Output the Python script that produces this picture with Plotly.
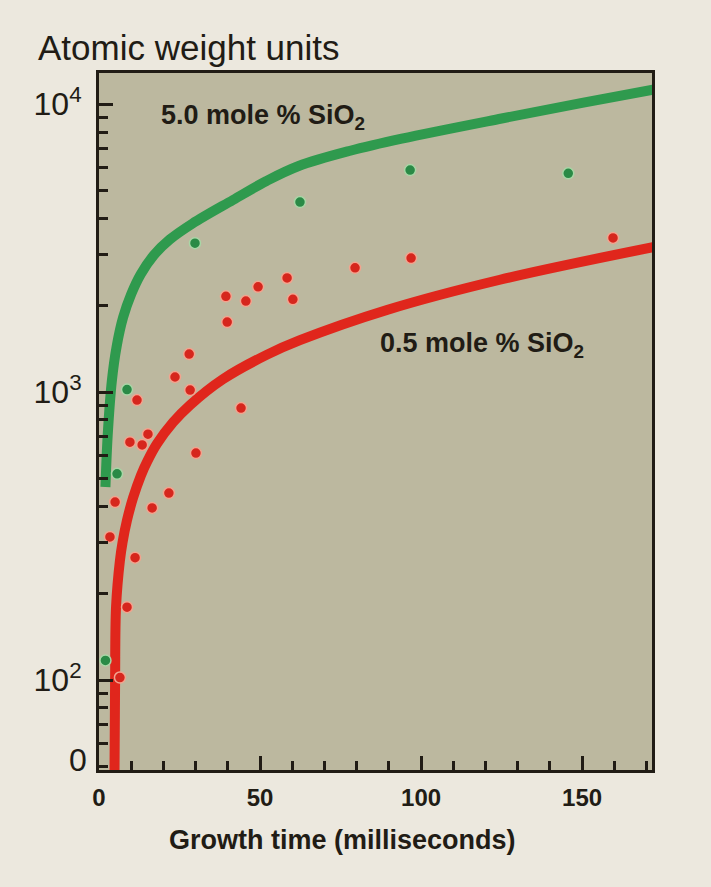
import plotly.graph_objects as go
import math

# ---- data ----
green_curve_t = [2.0, 2.7, 4.0, 5.5, 7.5, 10, 13, 17, 22, 29, 41.6, 52, 62, 78, 94, 125, 150, 172]
green_curve_v = [468, 708, 1096, 1445, 1820, 2188, 2570, 2985, 3388, 3846, 4645, 5408, 6095,
                 6887, 7586, 8913, 10092, 11220]

red_curve_t = [4.8, 5.0, 5.3, 6.5, 7.3, 8.7, 10.6, 13, 15, 18, 23, 28.3, 38.5, 52.2, 62.4, 89.4, 124.5, 172]
red_curve_v = [45, 100, 180, 260, 300, 359, 430, 513, 575, 661, 785, 902, 1109, 1349, 1514, 1928, 2455, 3184]

green_pts_t = [2.0, 5.6, 8.7, 29.8, 62.4, 96.6, 145.7]
green_pts_v = [117, 520, 1020, 3290, 4570, 5900, 5750]

red_pts_t = [159.6, 96.9, 79.5, 60.2, 58.4, 49.4, 45.6, 39.4, 39.8, 28.0, 23.6, 28.3,
             11.8, 44.1, 15.2, 9.6, 13.4, 30.1, 21.7, 16.5, 5.0, 3.4, 11.2, 8.7, 6.5]
red_pts_v = [3430, 2920, 2700, 2100, 2490, 2320, 2070, 2150, 1750, 1355, 1128, 1016,
             938, 880, 714, 670, 655, 614, 446, 396, 415, 314, 266, 179, 102]

x_major = [0, 50, 100, 150]
x_minor = [10, 20, 30, 40, 60, 70, 80, 90, 110, 120, 130, 140, 160, 170]
y_major = [100, 1000, 10000]
y_major_text = ["10<sup>2</sup>", "10<sup>3</sup>", "10<sup>4</sup>"]
y_minor = [50, 60, 70, 80, 90, 200, 300, 400, 500, 600, 700, 800, 900,
           2000, 3000, 4000, 5000, 6000, 7000, 8000, 9000]
y_zero_label_value = 52.7

label_green = "5.0 mole % SiO<sub>2</sub>"
label_red = "0.5 mole % SiO<sub>2</sub>"

# ---- style ----
GREEN_LINE = "#2f9a4e"
GREEN_DOT = "#2a8a46"
RED_LINE = "#e0261c"
RED_DOT = "#d6261d"
INK = "#211c15"
PLOT_BG = "#bcb89f"
PAPER_BG = "#ece8de"
REG = "Liberation Sans, Arial, sans-serif"

fig = go.Figure()
fig.add_trace(go.Scatter(x=green_curve_t, y=green_curve_v, mode="lines",
                         line=dict(color=GREEN_LINE, width=10, shape="spline", smoothing=1.0),
                         hoverinfo="skip"))
fig.add_trace(go.Scatter(x=red_curve_t, y=red_curve_v, mode="lines",
                         line=dict(color=RED_LINE, width=10, shape="spline", smoothing=1.0),
                         hoverinfo="skip"))
fig.add_trace(go.Scatter(x=green_pts_t, y=green_pts_v, mode="markers",
                         marker=dict(color=GREEN_DOT, size=11, line=dict(color="#a9d6a6", width=1.5))))
fig.add_trace(go.Scatter(x=red_pts_t, y=red_pts_v, mode="markers",
                         marker=dict(color=RED_DOT, size=11, line=dict(color="#f2a48f", width=1.5))))

fig.update_layout(
    width=711, height=887,
    margin=dict(l=99, r=59, t=73, b=117),
    paper_bgcolor=PAPER_BG, plot_bgcolor=PLOT_BG,
    showlegend=False,
    font=dict(family=REG, color=INK),
)

fig.update_xaxes(
    range=[0, 171.7], tickmode="array", tickvals=x_major,
    ticktext=[str(v) for v in x_major],
    ticks="inside", ticklen=14, tickwidth=2.5, tickcolor=INK,
    tickfont=dict(family=REG, size=24, color=INK, weight="bold"),
    ticklabelstandoff=4,
    showline=True, linecolor=INK, linewidth=3, mirror=True,
    showgrid=False, zeroline=False,
    minor=dict(tickmode="array", tickvals=x_minor, ticks="inside", ticklen=9,
               tickwidth=2.5, tickcolor=INK, showgrid=False),
)

fig.update_yaxes(
    type="log", range=[1.6875, 4.108], tickmode="array", tickvals=y_major,
    ticktext=y_major_text,
    ticks="inside", ticklen=14, tickwidth=2.5, tickcolor=INK,
    tickfont=dict(family=REG, size=32, color=INK),
    ticklabelstandoff=8,
    showline=True, linecolor=INK, linewidth=3, mirror=True,
    showgrid=False, zeroline=False,
    minor=dict(tickmode="array", tickvals=y_minor, ticks="inside", ticklen=9,
               tickwidth=2.5, tickcolor=INK, showgrid=False),
)

fig.add_annotation(text="0", xref="paper", yref="y", x=0, y=math.log10(y_zero_label_value),
                   xanchor="right", yanchor="middle", xshift=-10, showarrow=False,
                   font=dict(family=REG, size=32, color=INK))

fig.add_annotation(text="Atomic weight units", xref="paper", yref="paper",
                   x=(36 - 99) / 553, y=(770 - 48) / 697, xanchor="left", yanchor="middle",
                   showarrow=False, font=dict(family=REG, size=35, color=INK))

fig.add_annotation(text="Growth time (milliseconds)", xref="paper", yref="paper",
                   x=(342 - 99) / 553, y=(770 - 840) / 697, xanchor="center", yanchor="middle",
                   showarrow=False, font=dict(family=REG, size=27, color=INK, weight="bold"))

fig.add_annotation(text=label_green, xref="x", yref="y", x=18.6, y=3.955,
                   xanchor="left", yanchor="middle", showarrow=False,
                   font=dict(family=REG, size=27, color=INK, weight="bold"))
fig.add_annotation(text=label_red, xref="x", yref="y", x=86.6, y=3.165,
                   xanchor="left", yanchor="middle", showarrow=False,
                   font=dict(family=REG, size=27, color=INK, weight="bold"))

fig.write_html("out.html", config={"displayModeBar": False},
               post_script="document.body.style.margin='0';"
                           "document.body.style.background='" + PAPER_BG + "';")
